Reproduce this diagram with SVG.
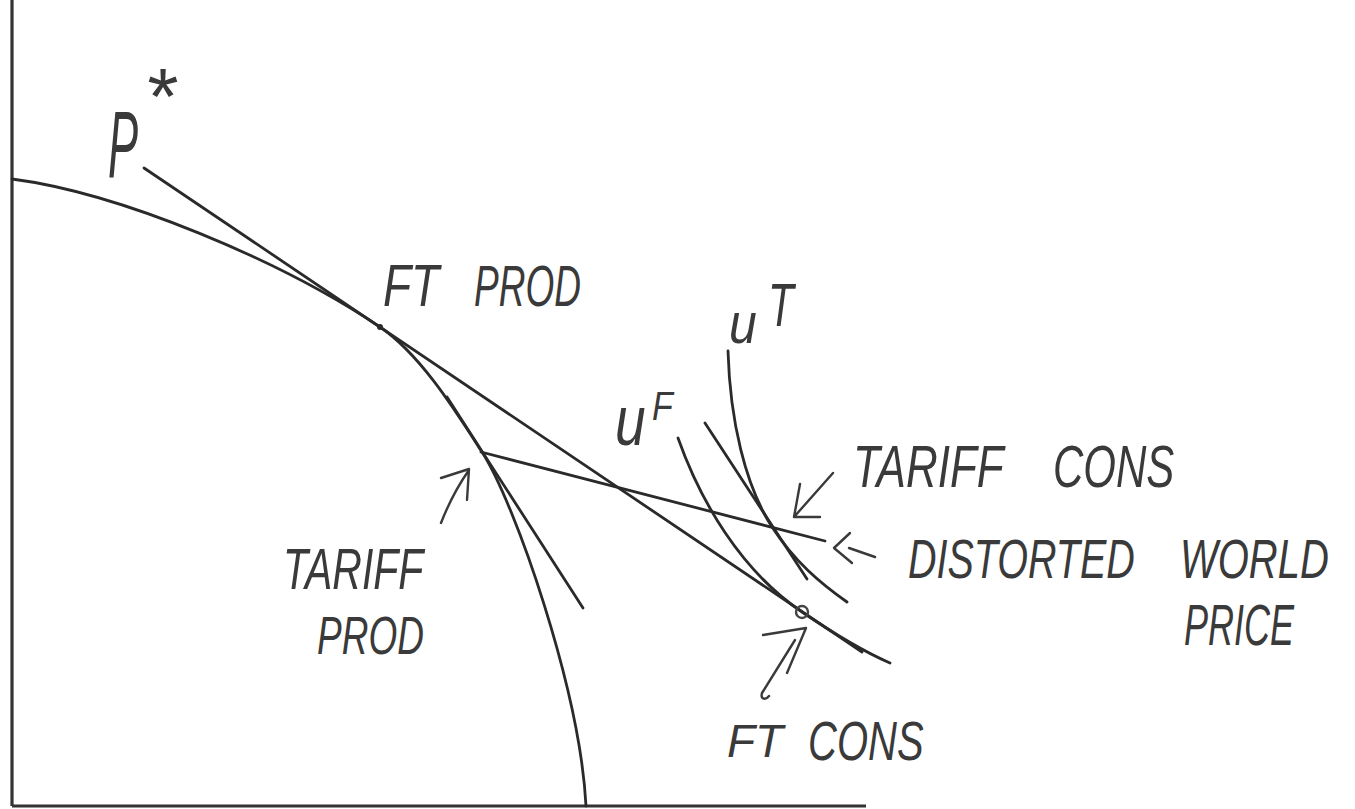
<svg xmlns="http://www.w3.org/2000/svg" width="1355" height="809" viewBox="0 0 1355 809">
<style>
.ln{fill:none;stroke:#2a2a2a;stroke-width:2.8;stroke-linecap:round;stroke-linejoin:round}
.ax{fill:none;stroke:#333;stroke-width:3.2}
.ar{fill:none;stroke:#3a3a3a;stroke-width:2.4;stroke-linecap:round;stroke-linejoin:round}
.tx{font-family:"Liberation Sans",Arial,sans-serif;font-style:italic;fill:#3a3a3a}
</style>
<rect width="1355" height="809" fill="#fff"/>
<g id="axes">
<line class="ax" x1="12" y1="0" x2="12" y2="806"/>
<line class="ax" x1="12" y1="806" x2="866" y2="806"/>
</g>
<g id="connectors">
<path id="ppf" class="ln" d="M12,179 C120,193 280,260 380,327 C420,354 455,410 482,452 C515,503 580,690 586,806"/>
<line id="ft-price" class="ln" x1="144" y1="168" x2="862" y2="652"/>
<line id="tariff-tangent" class="ln" x1="447" y1="397" x2="583" y2="608"/>
<line id="distorted-price" class="ln" x1="481" y1="452" x2="825" y2="541"/>
<line id="tariff-cons-tangent" class="ln" x1="705" y1="423" x2="807" y2="579"/>
<path id="uf" class="ln" d="M678,438 C700,500 740,570 802,612 C830,631 860,650 890,663"/>
<path id="ut" class="ln" d="M728,351 C730,420 745,485 772,527 C795,562 820,583 847,602"/>
<circle cx="380" cy="327" r="3" fill="#2a2a2a"/>
<circle cx="802" cy="612" r="6" fill="none" stroke="#444" stroke-width="2.4"/>
<path class="ar" d="M441,523 C448,505 455,490 469,470 M441,478 L469,469 L467,500"/>
<path class="ar" d="M833,473 L794,517 M800,484 L794,517 L820,517"/>
<path class="ar" d="M875,557 L849,548 M850,533 L834,548 L852,563"/>
<path class="ar" d="M763,635 L806,628 L787,673 M795,640 L762,693 C760,700 766,700 769,696"/>
</g>
<g id="labels">
<text class="tx" transform="translate(108,177) scale(1,2.1)" font-size="45">P</text>
<text class="tx" x="144" y="124" font-size="80">*</text>
<text class="tx" transform="translate(383,306) scale(1,1.28)" font-size="46">FT</text>
<text class="tx" transform="translate(474,306) scale(1,1.57)" font-size="37">PROD</text>
<text class="tx" transform="translate(615,445) scale(1,1.28)" font-size="55">u</text>
<text class="tx" transform="translate(652,420) scale(1,1.22)" font-size="34">F</text>
<text class="tx" transform="translate(729,343) scale(1,1.15)" font-size="50">u</text>
<text class="tx" transform="translate(768,326) scale(1,1.44)" font-size="42">T</text>
<text class="tx" transform="translate(853,487) scale(1,1.33)" font-size="44">TARIFF</text>
<text class="tx" transform="translate(1053,487) scale(1,1.39)" font-size="42">CONS</text>
<text class="tx" transform="translate(908,578) scale(1,1.4)" font-size="39.5">DISTORTED</text>
<text class="tx" transform="translate(1180,578) scale(1,1.39)" font-size="40">WORLD</text>
<text class="tx" transform="translate(1184,645) scale(1,1.6)" font-size="36">PRICE</text>
<text class="tx" transform="translate(283,589) scale(1,1.4)" font-size="41">TARIFF</text>
<text class="tx" transform="translate(317,654) scale(1,1.45)" font-size="37">PROD</text>
<text class="tx" transform="translate(727,757)" font-size="46">FT</text>
<text class="tx" transform="translate(808,760) scale(1,1.4)" font-size="40">CONS</text>
</g>
</svg>
